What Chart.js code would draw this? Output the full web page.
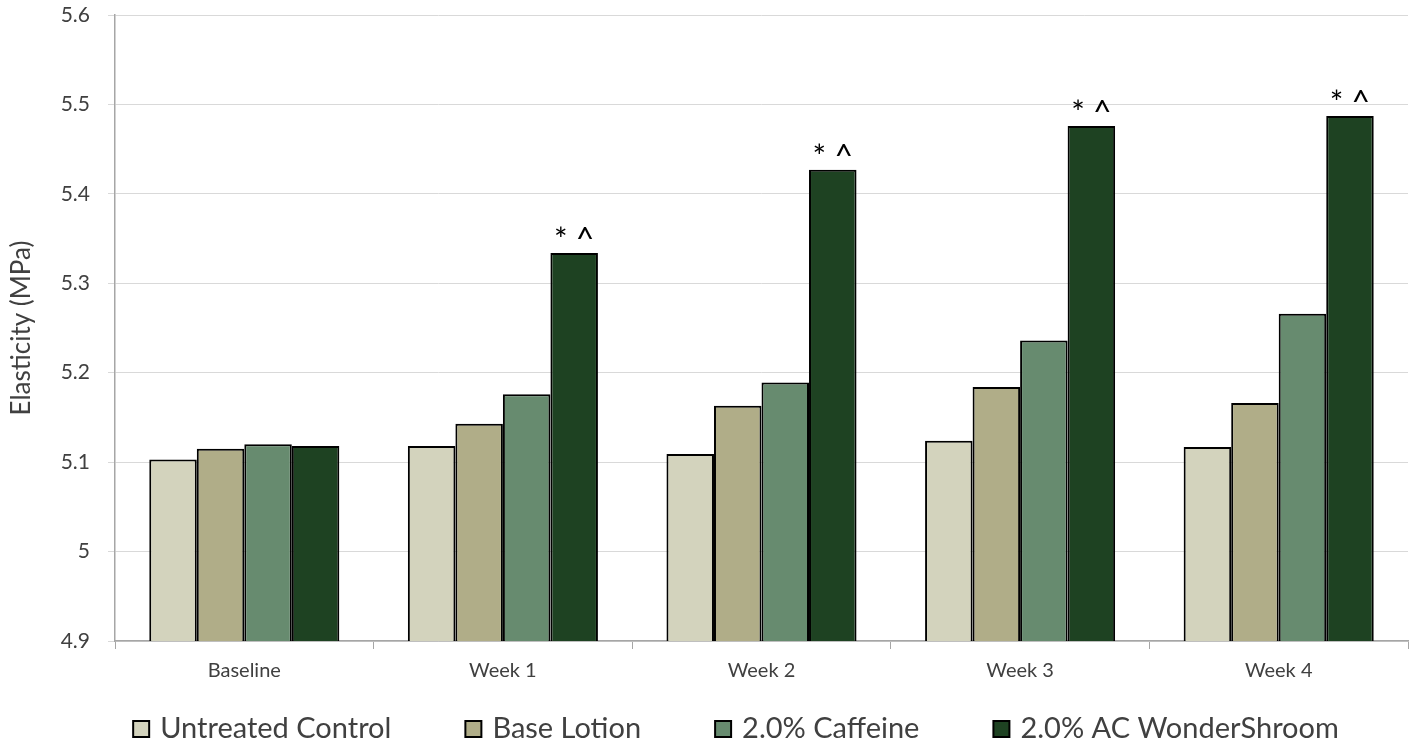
<!DOCTYPE html>
<html>
<head>
<meta charset="utf-8">
<script src="https://cdn.jsdelivr.net/npm/chart.js@4"></script>
<style>
  html, body { margin: 0; padding: 0; background: #fff; }
  #wrap { width: 1416px; height: 747px; }
</style>
</head>
<body>
<div id="wrap"><canvas id="chart" width="1416" height="747"></canvas></div>
<script>
'use strict';

// Categories and series
const CATEGORIES = ['Baseline', 'Week 1', 'Week 2', 'Week 3', 'Week 4'];
const SERIES_NAMES = ['Untreated Control', 'Base Lotion', '2.0% Caffeine', '2.0% AC WonderShroom'];
const UNTREATED = [5.103, 5.118, 5.109, 5.124, 5.117];
const BASE_LOTION = [5.115, 5.143, 5.163, 5.184, 5.166];
const CAFFEINE = [5.120, 5.176, 5.189, 5.236, 5.266];
const WONDERSHROOM = [5.118, 5.334, 5.427, 5.476, 5.487];
const SIGNIFICANCE = ['', '*^', '*^', '*^', '*^'];
const Y_MIN = 4.9, Y_MAX = 5.6, Y_STEP = 0.1;

const COLORS = ['#d3d3bd', '#b0ad88', '#678b6f', '#1e4222'];
const FONT = 'Lato, "Open Sans", sans-serif';
const TEXT = '#404040';

// writes "*^" above the WonderShroom bars
const markPlugin = {
  id: 'marks',
  afterDatasetsDraw(chart) {
    const ctx = chart.ctx;
    const meta = chart.getDatasetMeta(3);
    ctx.save();
    ctx.fillStyle = '#000';
    ctx.font = '32px ' + FONT;
    ctx.textAlign = 'center';
    ctx.textBaseline = 'alphabetic';
    meta.data.forEach((bar, i) => {
      if (!SIGNIFICANCE[i]) return;
      ctx.fillText(SIGNIFICANCE[i].split('').join(' '), bar.x, bar.y - 2);
    });
    ctx.restore();
  }
};

// legend drawn by hand so the row spacing matches the original
const legendPlugin = {
  id: 'rowLegend',
  afterDraw(chart) {
    const ctx = chart.ctx;
    const box = 16, textGap = 11, itemGap = 74, cy = 729;
    ctx.save();
    ctx.font = '29px ' + FONT;
    const widths = SERIES_NAMES.map(n => ctx.measureText(n).width);
    const total = widths.reduce((s, w) => s + box + textGap + w, 0) + itemGap * (SERIES_NAMES.length - 1);
    let x = 736 - total / 2;
    SERIES_NAMES.forEach((name, i) => {
      ctx.fillStyle = COLORS[i];
      ctx.fillRect(x, cy - box / 2, box, box);
      ctx.strokeStyle = '#000';
      ctx.lineWidth = 2;
      ctx.strokeRect(x, cy - box / 2, box, box);
      ctx.fillStyle = TEXT;
      ctx.textBaseline = 'middle';
      ctx.textAlign = 'left';
      ctx.fillText(name, x + box + textGap, cy);
      x += box + textGap + widths[i] + itemGap;
    });
    ctx.restore();
  }
};

const seriesData = [UNTREATED, BASE_LOTION, CAFFEINE, WONDERSHROOM];

new Chart(document.getElementById('chart'), {
  type: 'bar',
  data: {
    labels: CATEGORIES,
    datasets: SERIES_NAMES.map((name, i) => ({
      label: name,
      data: seriesData[i],
      backgroundColor: COLORS[i],
      borderColor: '#000',
      borderWidth: 2,
      categoryPercentage: 0.735,
      barPercentage: 1.0
    }))
  },
  options: {
    responsive: false,
    animation: false,
    layout: { padding: { left: 0, right: 8, top: 15, bottom: 46 } },
    plugins: {
      tooltip: { enabled: false },
      legend: { display: false }
    },
    scales: {
      x: {
        grid: { display: true, drawOnChartArea: false, offset: true, tickLength: 8, color: '#a6a6a6' },
        border: { color: '#a6a6a6', width: 1.5 },
        ticks: { color: TEXT, font: { family: FONT, size: 20 }, padding: 10 },
        afterFit(s) { s.height = 60; s.paddingLeft = 0; s.paddingRight = 0; }
      },
      y: {
        min: Y_MIN,
        max: Y_MAX,
        ticks: {
          stepSize: Y_STEP,
          color: TEXT,
          font: { family: FONT, size: 21 },
          padding: 18,
          callback: (v) => Math.round(v * 10) / 10
        },
        grid: { color: '#d9d9d9', tickLength: 7, lineWidth: 1 },
        border: { color: '#a6a6a6', width: 1.5 },
        title: { display: true, text: 'Elasticity (MPa)', color: TEXT, font: { family: FONT, size: 26 }, padding: { top: 6, bottom: 0 } },
        afterFit(s) { s.width = 115; s.paddingTop = 0; s.paddingBottom = 0; }
      }
    }
  },
  plugins: [markPlugin, legendPlugin]
});
</script>
</body>
</html>
